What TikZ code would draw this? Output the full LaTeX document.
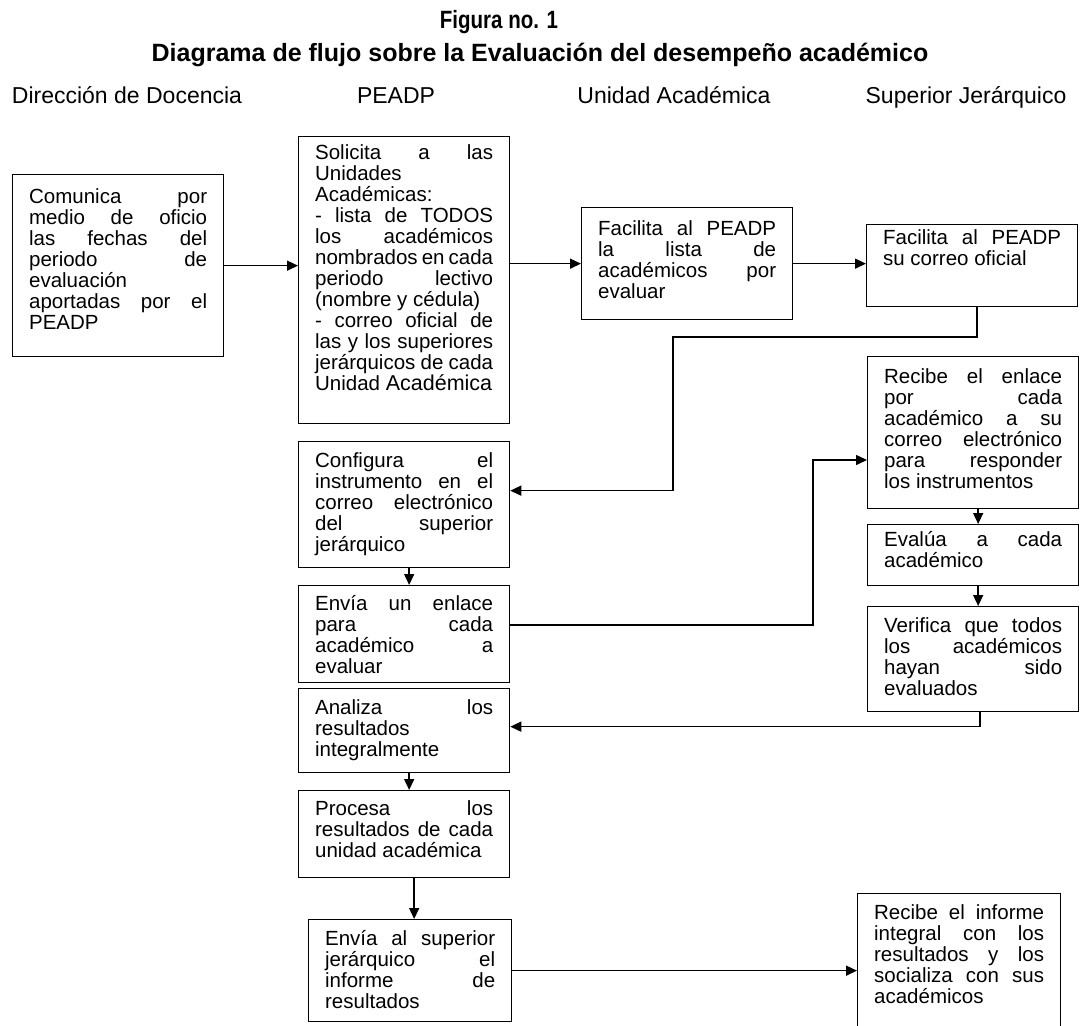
\documentclass[tikz,border=0pt]{standalone}
\usepackage{fontspec}
\setmainfont{Liberation Sans}
\newfontfamily\angosta[FakeStretch=0.82]{Liberation Sans}
\usetikzlibrary{arrows.meta}

\tikzset{
  caja/.style={draw, line width=1.3pt, anchor=north west, inner xsep=16.5pt, inner ysep=0pt,
    text width=178pt, align=justify, font=\fontsize{20.5}{21}\selectfont, text height=26pt},
  angosto/.style={text width=170pt},
  encabezado/.style={anchor=base, inner sep=0pt, font=\fontsize{23}{26}\selectfont},
  flecha/.style={line width=1.5pt, -{Triangle[length=11pt,width=10pt]}}
}

\begin{document}
\begin{tikzpicture}[x=1pt,y=-1pt]
\useasboundingbox (0,0) rectangle (1081,1025);

\node[anchor=base, inner sep=0pt, font=\angosta\bfseries\fontsize{25}{28}\selectfont] (fig) at (499,29) {Figura no. 1};
\node[anchor=base, inner sep=0pt, font=\bfseries\fontsize{25}{28}\selectfont] (tit) at (540,62) {Diagrama de flujo sobre la Evaluación del desempeño académico};

\node[encabezado] (dd) at (127,103) {Dirección de Docencia};
\node[encabezado] (pe) at (396,103) {PEADP};
\node[encabezado] (ua) at (674,103) {Unidad Académica};
\node[encabezado] (sj) at (966,103) {Superior Jerárquico};

\node[caja, text height=29pt, text depth=153pt] (com) at (12,174)
  {Comunica por \linebreak medio de oficio \linebreak las fechas del \linebreak periodo de \linebreak evaluación \linebreak aportadas por el \linebreak PEADP};
\node[caja, text height=23pt, text depth=264pt] (sol) at (298,136)
  {Solicita a las \linebreak Unidades \linebreak Académicas:\par
   - lista de TODOS \linebreak los académicos \linebreak nombrados en cada \linebreak periodo lectivo \linebreak (nombre y cédula)\par
   - correo oficial de \linebreak las y los superiores \linebreak jerárquicos de cada \linebreak Unidad~{\fontsize{21.5}{21}\selectfont Académica}};
\node[caja, text height=28pt, text depth=84pt] (fac) at (581,207)
  {Facilita al PEADP \linebreak la lista de \linebreak académicos por \linebreak evaluar};
\node[caja, text height=20pt, text depth=62pt] (cor) at (866,224)
  {Facilita al PEADP \linebreak su correo oficial};
\node[caja, text depth=100pt] (conf) at (298,441)
  {Configura el \linebreak instrumento en el \linebreak correo electrónico \linebreak del superior \linebreak jerárquico};
\node[caja, text height=25pt, text depth=72pt] (env) at (298,585)
  {Envía un enlace \linebreak para cada \linebreak académico a \linebreak evaluar};
\node[caja, text depth=58pt] (ana) at (298,688)
  {Analiza los \linebreak resultados \linebreak integralmente};
\node[caja, text height=25pt, text depth=62pt] (pro) at (298,790)
  {Procesa los \linebreak resultados de cada \linebreak unidad académica};
\node[caja, angosto, text depth=76pt] (ini) at (308,919)
  {Envía al superior \linebreak jerárquico el \linebreak informe de \linebreak resultados};
\node[caja, text height=27pt, text depth=125pt] (rec) at (867,356)
  {Recibe el enlace \linebreak por cada \linebreak académico a su \linebreak correo electrónico \linebreak para responder \linebreak los instrumentos};
\node[caja, text height=22pt, text depth=39pt] (eva) at (867,524)
  {Evalúa a cada \linebreak académico};
\node[caja, text depth=79pt] (ver) at (867,606)
  {Verifica que todos \linebreak los académicos \linebreak hayan sido \linebreak evaluados};
\node[caja, angosto, text depth=114pt] (inf) at (857,893)
  {Recibe el informe \linebreak integral con los \linebreak resultados y los \linebreak socializa con sus \linebreak académicos};

\coordinate (c1) at (673,337);
\coordinate (c2) at (813,460);

\draw[flecha] (com.east) -- (com.east -| sol.west);
\draw[flecha] (sol.east |- fac.west) -- (fac.west);
\draw[flecha] (fac.east) -- (fac.east -| cor.west);
\draw[flecha] ([xshift=5pt]cor.south) |- (c1) |- ([yshift=14pt]conf.east);
\draw[flecha] ([xshift=5pt]conf.south) -- ([xshift=5pt]env.north);
\draw[flecha] ([yshift=9pt]env.east) -| (c2) -- (c2 -| rec.west);
\draw[flecha] ([xshift=5pt]rec.south) -- ([xshift=5pt]eva.north);
\draw[flecha] ([xshift=5pt]eva.south) -- ([xshift=5pt]ver.north);
\draw[flecha] ([xshift=7pt]ver.south) |- ([yshift=4pt]ana.east);
\draw[flecha] ([xshift=5pt]ana.south) -- ([xshift=5pt]pro.north);
\draw[flecha] ([xshift=4pt]ini.north |- pro.south) -- ([xshift=4pt]ini.north);
\draw[flecha] (ini.east) -- (ini.east -| inf.west);
\end{tikzpicture}
\end{document}
